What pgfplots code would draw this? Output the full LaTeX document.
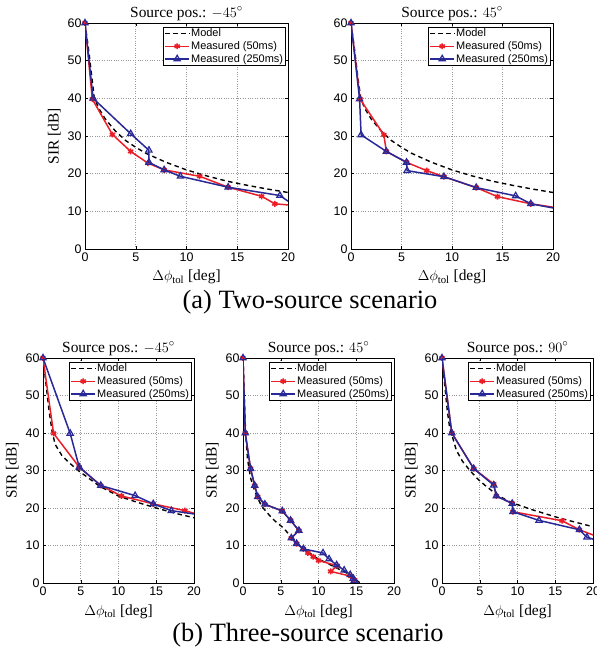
\documentclass[border=0pt]{standalone}
\usepackage{pgfplots}
\pgfplotsset{compat=1.18}
\usepackage{fontspec}
\setmainfont{Liberation Serif}
\setsansfont{Liberation Sans}
\definecolor{mred}{RGB}{235,30,40}
\definecolor{mblue}{RGB}{40,40,150}
\pgfplotsset{
 every axis title shift=0pt,
 sir/.style={
  scale only axis, anchor=north west,
  xmin=0,xmax=20,ymin=0,ymax=60,
  xtick={0,5,10,15,20}, ytick={0,10,20,30,40,50,60},
  grid=major, grid style={dotted, gray!80, line width=0.7pt},
  tick align=inside, major tick length=3bp,
  tick style={black, line width=0.5pt},
  tick label style={font=\fontsize{12.5}{13}\sffamily},
  /pgf/number format/assume math mode=true,
  axis line style={line width=0.8pt},
  title style={font=\fontsize{15.5}{16}\selectfont, at={(0.5,1)}, anchor=base, yshift=6bp, inner sep=0pt},
  label style={font=\fontsize{15.5}{16}\selectfont},
  xlabel={$\Delta\phi_{\mathrm{tol}}$ [deg]},
  ylabel={SIR [dB]},
  xlabel style={at={(0.5,0)}, anchor=base, yshift=-32bp, inner sep=0pt},
  legend style={at={(1,1)},anchor=north east, xshift=-2.5bp, yshift=-3.5bp,
    font=\fontsize{11}{12}\sffamily, draw=black, line width=0.8pt,
    inner sep=1bp, row sep=1.2bp, nodes={inner sep=1bp}},
  legend cell align=left,
  legend image code/.code={\draw[##1, mark indices={2}] plot coordinates {(0cm,0cm) (0.43cm,0cm) (0.86cm,0cm)};},
  clip mode=individual,
 },
 model/.style={black, line width=1.4pt, mark=none, dash pattern=on 4.5bp off 3.5bp},
 m50/.style={mred, line width=1.5pt, mark=asterisk, mark size=3pt, mark options={solid, line width=1.6pt}},
 m250/.style={mblue, line width=1.5pt, mark=triangle, mark size=3.6pt, mark options={solid, line width=1.2pt}},
}
\begin{document}
\begin{tikzpicture}
\useasboundingbox (0,0) rectangle (597bp,-655bp);

% ---------- (a) top-left ----------
\begin{axis}[sir, at={(85bp,-23bp)}, width=203bp, height=226bp,
  title={Source pos.: $-45^\circ$}]
\addplot[model] coordinates {(0,60)(0.4,52)(0.7,45)(0.9,40.5)(1.3,37.6)(2,34.5)(3,31.3)(4,28.8)(5,27)(6,25.4)(8,23)(10,21)(12,19.4)(14,18)(16,16.9)(18,15.9)(20,15)};
\addlegendentry{Model}
\addplot[m50, mark indices={1,...,10}] coordinates {(0,60)(0.72,39.8)(2.7,30.4)(4.5,25.9)(6.2,22.8)(7.8,21)(11.3,19.3)(14.1,16.4)(17.4,14)(18.7,12)(20,11.7)};
\addlegendentry{Measured (50ms)}
\addplot[m250, mark indices={1,...,9}] coordinates {(0,60)(0.8,40)(4.5,30.6)(6.3,26.2)(6.3,23)(7.8,21)(9.4,19.3)(14.1,16.4)(19.2,14.2)(20,12.7)};
\addlegendentry{Measured (250ms)}
\end{axis}

% ---------- (a) top-right ----------
\begin{axis}[sir, at={(351bp,-23bp)}, width=202bp, height=226bp,
  title={Source pos.: $45^\circ$}, ylabel={}]
\addplot[model] coordinates {(0,60)(0.4,52)(0.7,45)(0.95,40.5)(1.3,37.6)(2,34.5)(3,31.3)(4,28.8)(5,27)(6,25.4)(8,23)(10,21)(12,19.4)(14,18)(16,16.9)(18,15.9)(20,15)};
\addlegendentry{Model}
\addplot[m50, mark indices={1,...,10}] coordinates {(0,60)(0.9,39.8)(3.25,30.3)(3.5,25.9)(5.5,23)(7.5,20.8)(9.2,19.2)(12.4,16.3)(14.5,13.9)(17.8,12)(20,11.1)};
\addlegendentry{Measured (50ms)}
\addplot[m250, mark indices={1,...,10}] coordinates {(0,60)(0.85,39.8)(1.0,30.3)(3.5,25.9)(5.5,23)(5.55,20.8)(9.2,19.2)(12.4,16.3)(16.3,14.1)(17.8,12)(20,10.9)};
\addlegendentry{Measured (250ms)}
\end{axis}

% ---------- (b) bottom-left ----------
\begin{axis}[sir, at={(43bp,-358bp)}, width=151bp, height=225bp,
  title={Source pos.: $-45^\circ$}]
\addplot[model] coordinates {(0,60)(0.4,53)(0.8,46)(1.2,40.5)(1.6,37)(2.5,34)(3.5,32)(4.8,29.8)(7.5,25.8)(10,23.2)(12.5,21.5)(15,20)(17.5,18.6)(20,17.4)};
\addlegendentry{Model}
\addplot[m50, mark indices={1,...,7}] coordinates {(0,60)(1.4,39.9)(4.8,30.9)(7.65,26)(10.4,23.2)(14.6,21.1)(18.8,19.3)(20,18.6)};
\addlegendentry{Measured (50ms)}
\addplot[m250, mark indices={1,...,7}] coordinates {(0,60)(3.6,39.9)(4.8,30.9)(7.65,26)(12.2,23.3)(14.6,21.1)(17,19.3)(20,18.4)};
\addlegendentry{Measured (250ms)}
\end{axis}

% ---------- (b) bottom-middle ----------
\begin{axis}[sir, at={(243bp,-358bp)}, width=151bp, height=225bp,
  title={Source pos.: $45^\circ$}]
\addplot[model] coordinates {(0,60)(0.15,50)(0.35,40)(0.6,33)(1,28)(1.4,25.5)(1.85,23)(2.5,20.4)(3.3,18.5)(4.2,16.6)(5.4,14.6)(6.7,11.5)(8.2,8.9)(9.8,6.6)(12,4.4)(14.2,2.2)(15.5,0)};
\addlegendentry{Model}
\addplot[m50] coordinates {(0,60)(0.3,40)(1.0,30.5)(1.55,26)(1.95,23)(2.9,21)(5.2,19.2)(6.3,16.7)(7.4,14)(6.4,12)(7.1,10.5)(8.0,9.1)(8.6,8)(9.3,7)(10.0,6.0)(12.5,4.6)(11.6,3.1)(14.3,1.8)(14.8,0.8)};
\addlegendentry{Measured (50ms)}
\addplot[m250] coordinates {(0,60)(0.3,40)(1.0,30.5)(1.55,26)(1.95,23)(2.9,21)(5.2,19.2)(6.3,16.7)(7.4,14)(6.4,12)(7.1,10.5)(8.0,9.1)(10.6,8)(11.4,6.4)(12.4,4.8)(13.4,3.4)(14.2,2.2)(14.6,1.2)(14.75,0.7)};
\addlegendentry{Measured (250ms)}
\end{axis}

% ---------- (b) bottom-right ----------
\begin{axis}[sir, at={(442bp,-358bp)}, width=151bp, height=225bp,
  title={Source pos.: $90^\circ$}]
\addplot[model] coordinates {(0,60)(0.4,52)(0.7,46)(1.0,41.6)(1.9,35.4)(2.7,32.5)(3.7,30)(4.7,27.8)(5.9,25.7)(7,24)(8.5,22.1)(10,20.9)(12,19.5)(15.6,17.3)(20,15)};
\addlegendentry{Model}
\addplot[m50, mark indices={1,...,9}] coordinates {(0,60)(1.3,40)(4.2,30.5)(6.85,26.4)(7.2,23.2)(9.3,21.2)(9.4,19)(15.9,16.6)(18.2,14.2)(20,12.8)};
\addlegendentry{Measured (50ms)}
\addplot[m250, mark indices={1,...,10}] coordinates {(0,60)(1.3,40)(4.2,30.5)(6.85,26.1)(7.2,23.2)(9.3,21.2)(9.4,19)(12.85,16.7)(18.2,14.2)(19.2,12.2)(20,11.7)};
\addlegendentry{Measured (250ms)}
\end{axis}

\node[font=\fontsize{26.5}{28}\selectfont] at (310bp,-302bp) {(a) Two-source scenario};
\node[font=\fontsize{26.5}{28}\selectfont] at (308bp,-635bp) {(b) Three-source scenario};
\end{tikzpicture}
\end{document}
